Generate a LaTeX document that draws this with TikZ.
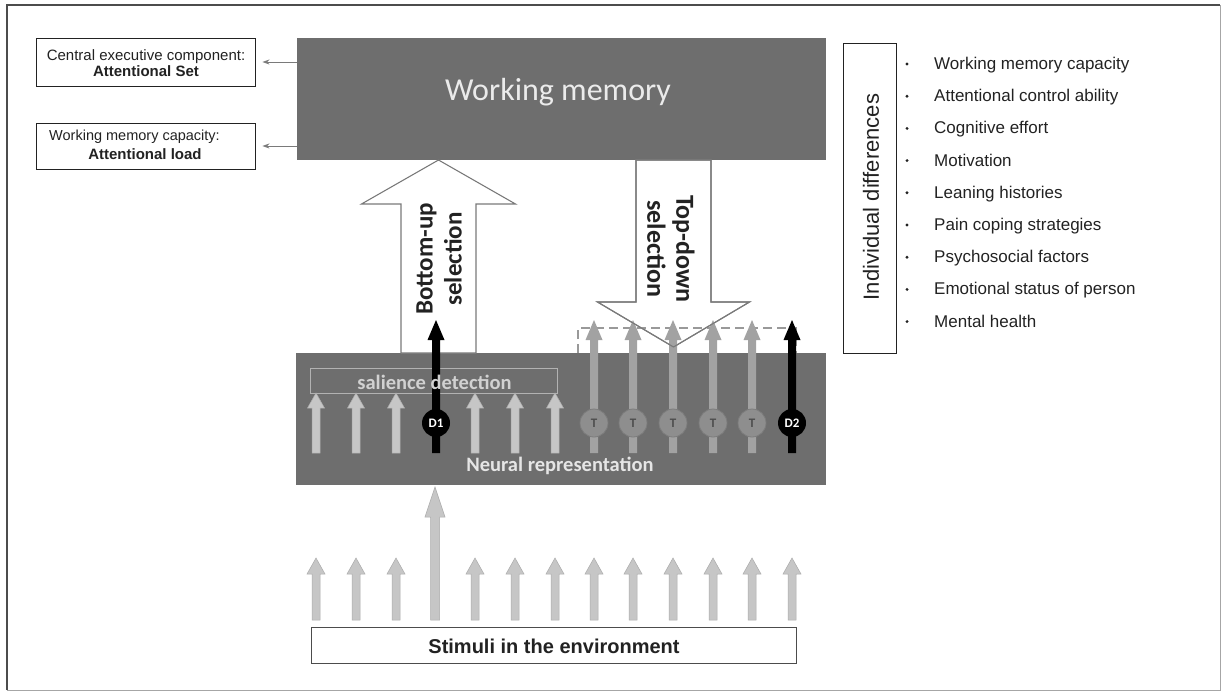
\documentclass[tikz,border=0pt]{standalone}
\usepackage{fontspec}
\setmainfont{Liberation Sans}
\newfontfamily\calib{Carlito}
\usetikzlibrary{arrows.meta}
\definecolor{boxgray}{HTML}{6E6E6E}
\definecolor{lightarr}{HTML}{C6C6C6}
\definecolor{lightarredge}{HTML}{ABABAB}
\definecolor{tarr}{HTML}{A2A2A2}
\definecolor{tcircfill}{HTML}{8E8E8E}
\definecolor{tcircedge}{HTML}{7C7C7C}
\definecolor{outl}{HTML}{7A7A7A}
\definecolor{txt}{HTML}{222222}
\newcommand\UpShape[6]{(#1-#4,#2) -- (#1-#4,#3+#6) -- (#1-#5,#3+#6) -- (#1,#3) -- (#1+#5,#3+#6) -- (#1+#4,#3+#6) -- (#1+#4,#2) -- cycle}
\newcommand\DownShape[6]{(#1-#4,#2) -- (#1-#4,#3-#6) -- (#1-#5,#3-#6) -- (#1,#3) -- (#1+#5,#3-#6) -- (#1+#4,#3-#6) -- (#1+#4,#2) -- cycle}
\newcommand\fs[1]{\fontsize{#1}{#1}\selectfont}
\tikzset{
  darkbox/.style={fill=boxgray, draw=none, inner sep=0pt},
  textbox/.style={draw=txt, line width=0.9pt, fill=white, inner sep=0pt},
  conn/.style={draw=outl, line width=0.8pt, -{Stealth[length=7pt,width=5pt]}, shorten >=7pt},
  blockarr/.style={fill=white, draw=outl, line width=1.1pt, line join=miter},
  lightup/.style={fill=lightarr, draw=lightarredge, line width=0.5pt},
  tup/.style={fill=tarr, draw=none},
  blackup/.style={fill=black, draw=none},
  dcirc/.style={circle, fill=black, minimum size=28pt, inner sep=0pt, text=white, font=\calib\bfseries\fs{13}},
  tcirc/.style={circle, fill=tcircfill, draw=tcircedge, line width=0.8pt, minimum size=28pt, inner sep=0pt, text=txt!80, font=\calib\bfseries\fs{13}},
  listitem/.style={anchor=base west, text=txt, font=\fs{17}, inner sep=0pt},
  bulletdot/.style={circle, fill=txt, inner sep=0pt, minimum size=3.2pt},
}
\begin{document}
\begin{tikzpicture}[x=1pt,y=-1pt]
\useasboundingbox (0,0) rectangle (1224,696);
% outer frame
\draw[draw=black!35, line width=1pt] (1220,5) -- (1220,690) -- (7,690);
\draw[draw=black!70, line width=1.3pt] (7,690) -- (7,5) -- (1220,5);

% main dark boxes
\node[darkbox, minimum width=529pt, minimum height=122pt] (wm) at (561.5,99) {};
\node[text=black!8, font=\calib\fs{32}] (wmtext) at (558,92) {Working memory};
\node[darkbox, minimum width=530pt, minimum height=132pt] (neural) at (561,419) {};

% left boxes
\node[textbox, minimum width=219pt, minimum height=48pt] (b1) at (145.5,62) {};
\node[text=txt, font=\fs{15}, align=center] (b1text) at (146,63) {Central executive component:\\[1pt]\textbf{Attentional Set}};
\node[textbox, minimum width=219pt, minimum height=46pt] (b2) at (145.5,146) {};
\node[text=txt, font=\fs{14.5}] (b2a) at (134.5,137) {Working memory capacity:};
\node[text=txt, font=\bfseries\fs{15}] (b2b) at (145,154.5) {Attentional load};
\draw[conn] (wm.west |- b1.east) -- (b1.east);
\draw[conn] (wm.west |- b2.east) -- (b2.east);

% block arrows
\path[blockarr] \UpShape{438.5}{353}{160}{37.5}{77}{44};
\path[blockarr] \DownShape{673.5}{160}{347}{37.5}{76}{45};
\node[rotate=90, align=center, text=txt, font=\calib\bfseries\fs{25}, inner sep=0pt] (butext) at (439,259) {Bottom-up\\[4pt]selection};
\node[rotate=-90, align=center, text=txt, font=\calib\bfseries\fs{26}, inner sep=0pt] (tdtext) at (671,249) {Top-down\\[3pt]selection};

% dashed attention window
\draw[draw=black!40, line width=1.3pt, dash pattern=on 9pt off 5pt] (578,353) -- (578,328) -- (796,328) -- (796,353);

% salience detection frame
\draw[draw=black!30, line width=0.8pt] (310,368) rectangle (557,393);

% light arrows in neural representation
\foreach \x in {316,356,396,475,515,555}
  \path[lightup] \UpShape{\x}{453}{393}{4}{8.5}{15};

% T arrows and D arrows
\foreach \x in {594,633,673,713,752}
  \path[tup] \UpShape{\x}{453}{320}{4}{8.5}{20};
\path[blackup] \UpShape{436}{453}{320}{4}{8.5}{20};
\path[blackup] \UpShape{792}{453}{320}{4}{8.5}{20};

% top-down outline redrawn over the T arrows
\path[draw=outl, line width=1.1pt, line join=miter] \DownShape{673.5}{160}{347}{37.5}{76}{45};

% salience text over the arrows
\node[text=black!18, font=\calib\bfseries\fs{20.5}] (sal) at (434.5,382) {salience detection};

% circles
\node[dcirc] (d1) at (436,423) {D1};
\node[dcirc] (d2) at (792,423) {D2};
\foreach \x/\n in {594/1,633/2,673/3,713/4,752/5}
  \node[tcirc] (t\n) at (\x,423) {T};

\node[text=black!10, font=\calib\bfseries\fs{20.5}] (nrtext) at (560,466) {Neural representation};

% stimuli
\foreach \x in {316,356,396,475,515,555,594,633,673,713,752,792}
  \path[lightup] \UpShape{\x}{620}{558}{4}{9}{16};
\path[lightup] \UpShape{435}{620}{487}{4.5}{10}{30};
\node[textbox, draw=black!70, minimum width=485pt, minimum height=36pt] (stim) at (553.5,645) {};
\node[text=txt, font=\bfseries\fs{20}] (stimtext) at (554,646) {Stimuli in the environment};

% individual differences
\node[textbox, minimum width=53pt, minimum height=310pt] (idbox) at (869.5,198) {};
\node[rotate=90, text=txt, font=\fs{22}, inner sep=0pt] (idtext) at (871,197) {Individual differences};
\foreach \t [count=\i from 0] in {Working memory capacity, Attentional control ability, Cognitive effort, Motivation, Leaning histories, Pain coping strategies, Psychosocial factors, Emotional status of person, Mental health}{
  \node[bulletdot] (bul\i) at (907,64+32.2*\i) {};
  \node[listitem] (item\i) at (934,69.5+32.2*\i) {\t};
}
\end{tikzpicture}
\end{document}
